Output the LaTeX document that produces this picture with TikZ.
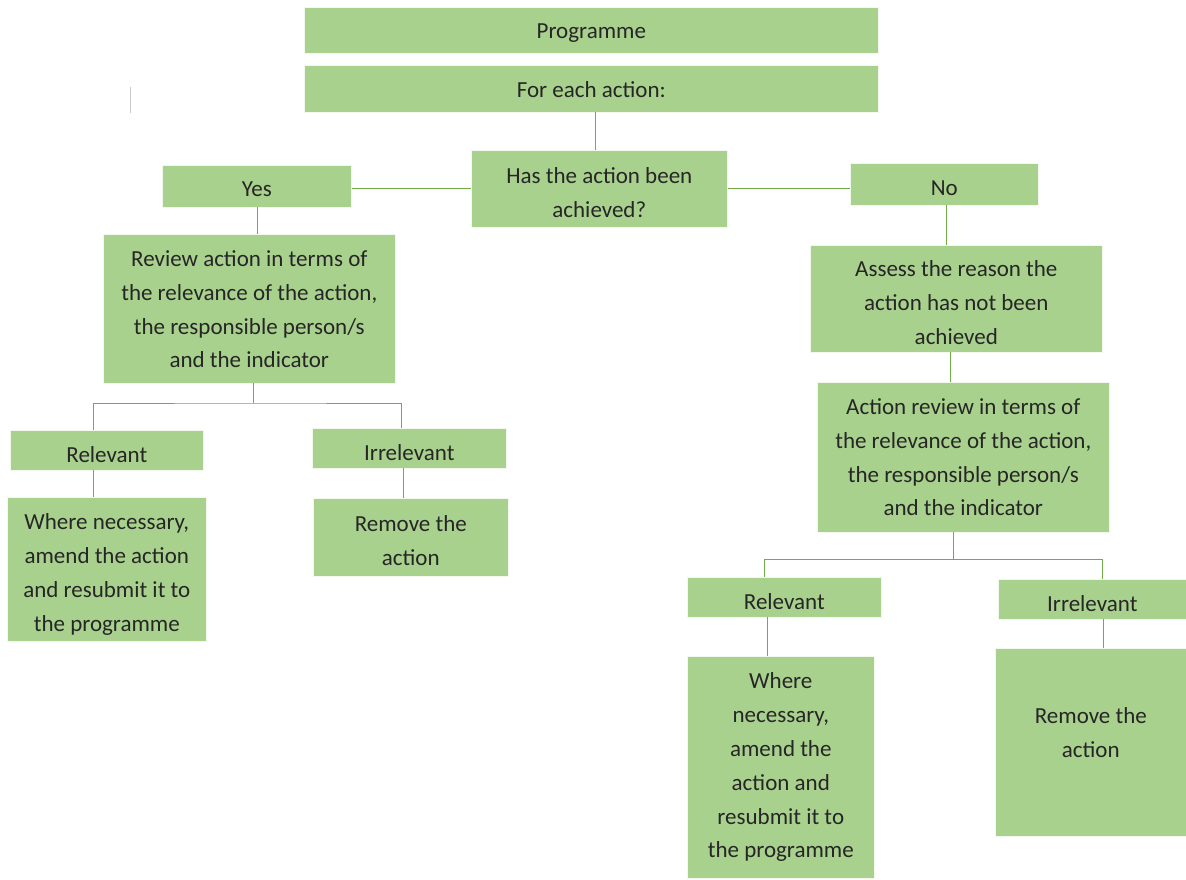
\documentclass[tikz,border=0pt]{standalone}
\usepackage{fontspec}
\setmainfont{Carlito}
\usetikzlibrary{calc}
\definecolor{boxgreen}{HTML}{A9D18E}
\definecolor{linegreen}{HTML}{70AD47}
\tikzset{
  box/.style={fill=boxgreen, draw=white!85!boxgreen, line width=0.6pt, anchor=north west, inner sep=0pt},
  boxtext/.style={inner sep=0pt, align=center, font=\fontsize{23}{33.8}\selectfont, text=black!85},
  conn/.style={draw=linegreen, line width=1pt}
}
% name, x1, y1, x2, y2, text shift (down, pt), text
\newcommand{\bx}[7]{%
  \node[box, minimum width={(#4-#2)*1pt}, minimum height={(#5-#3)*1pt}] (#1) at (#2,#3) {};
  \node[boxtext] (#1-t) at ([yshift=-#6pt]#1.center) {#7};}
\begin{document}
\begin{tikzpicture}[x=1pt,y=-1pt]
\useasboundingbox (0,0) rectangle (1186,879);
\bx{prog}{304}{7}{878}{53}{3}{Programme}
\bx{each}{304}{65}{878}{112}{1}{For each action:}
\bx{has}{471}{150}{727}{227}{3.5}{Has the action been\\achieved?}
\bx{yes}{162}{165}{351}{207}{3}{Yes}
\bx{no}{850}{163}{1038}{205}{4}{No}
\bx{revL}{103}{234}{395}{383}{0.5}{Review action in terms of\\the relevance of the action,\\the responsible person/s\\and the indicator}
\bx{relL}{10}{430}{203}{470}{4}{Relevant}
\bx{irrL}{312}{428}{506}{468}{4}{Irrelevant}
\bx{amendL}{7}{497}{206}{641}{5}{Where necessary,\\amend the action\\and resubmit it to\\the programme}
\bx{remL}{313}{498}{508}{576}{3}{Remove the\\action}
\bx{assess}{810}{245}{1102}{352}{4}{Assess the reason the\\action has not been\\achieved}
\bx{revR}{817}{382}{1109}{532}{0}{Action review in terms of\\the relevance of the action,\\the responsible person/s\\and the indicator}
\bx{relR}{687}{577}{881}{617}{4}{Relevant}
\bx{irrR}{998}{579}{1186}{619}{4}{Irrelevant}
\bx{amendR}{687}{656}{874}{878}{0}{Where\\necessary,\\amend the\\action and\\resubmit it to\\the programme}
\bx{remR}{995}{648}{1186}{836}{-10}{Remove the\\action}

% faint stray mark
\draw[black!20, line width=0.8pt] (130,87) -- (130,113);

% connectors
\coordinate (eachB) at (595,112);
\draw[conn] (eachB) -- (eachB |- has.north);
\draw[conn] (has.west) -- (has.west -| yes.east);
\draw[conn] (has.east) -- (has.east -| no.west);
\coordinate (yesB) at (257,207);
\draw[conn] (yesB) -- (yesB |- revL.north);
\coordinate (noB) at (946,205);
\draw[conn] (noB) -- (noB |- assess.north);
\coordinate (asB) at (950,352);
\draw[conn] (asB) -- (asB |- revR.north);

\coordinate (revLB) at (253,383);
\coordinate (jL) at (253,403);
\coordinate (relLT) at (93,430);
\coordinate (irrLT) at (401,428);
\draw[conn] (revLB) -- (jL);
\draw[conn] (relLT) |- (jL) -| (irrLT);
\coordinate (relLB) at (93,470);
\draw[conn] (relLB) -- (relLB |- amendL.north);
\coordinate (irrLB) at (403,468);
\draw[conn] (irrLB) -- (irrLB |- remL.north);

\coordinate (revRB) at (953,532);
\coordinate (jR) at (953,560);
\coordinate (relRT) at (764,577);
\coordinate (irrRT) at (1102,579);
\draw[conn] (revRB) -- (jR);
\draw[conn] (relRT) |- (764,559) -- (1102,559) -- (irrRT);
\coordinate (relRB) at (767,617);
\draw[conn] (relRB) -- (relRB |- amendR.north);
\coordinate (irrRB) at (1103,619);
\draw[conn] (irrRB) -- (irrRB |- remR.north);
\end{tikzpicture}
\end{document}
